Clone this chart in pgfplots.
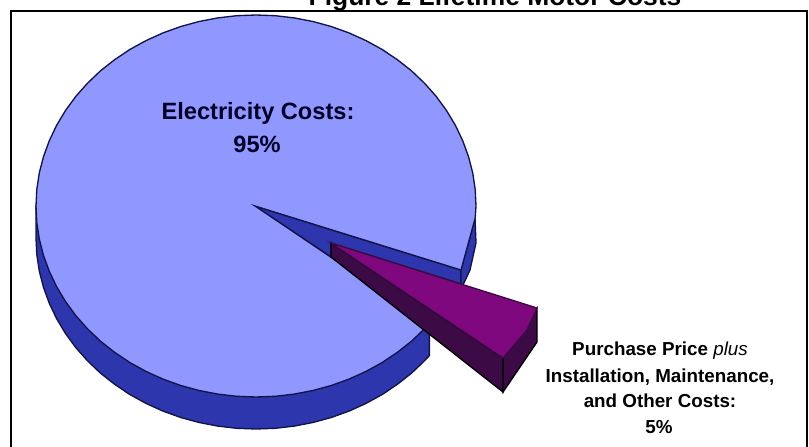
\documentclass[border=0pt]{standalone}
\usepackage{fontspec}
\setmainfont{Liberation Sans}
\usepackage{pgfplots}
\pgfplotsset{compat=1.18}
\definecolor{faceblue}{RGB}{144,152,255}
\definecolor{sideblue}{RGB}{45,54,172}
\definecolor{edgeblue}{RGB}{18,20,70}
\definecolor{facepurple}{RGB}{128,8,127}
\definecolor{sidepurple}{RGB}{60,10,68}
\begin{document}
\begin{tikzpicture}
\path[clip,use as bounding box] (0,0) rectangle (606.75pt,334.5pt);
\begin{axis}[
    at={(0,0)}, anchor=south west,
    scale only axis,
    width=606.75pt,
    height=334.5pt,
    xmin=0, xmax=809,
    ymin=0, ymax=446,
    y dir=reverse,
    hide axis,
    clip=false,
]
% frame, pixel coordinates of the picture
\addplot[black, line width=1.5pt] coordinates {(11,450) (11,11) (807,11) (807,450)};
% rim of the big slice
\addplot[fill=sideblue, draw=edgeblue, line width=1pt] coordinates {
(36,206) (36,238) (36.8,254.6) (39.3,271.2) (43.5,287.4) (49.3,303.3) (56.6,318.7)
(65.5,333.5) (75.8,347.6) (87.5,360.8) (100.4,373.1) (114.6,384.3) (129.8,394.5)
(146,403.4) (163,411.1) (180.8,417.5) (199.1,422.5) (217.8,426.1) (236.8,428.3)
(256,429) (275.2,428.3) (294.2,426.1) (312.9,422.5) (331.2,417.5) (349,411.1)
(366,403.4) (382.2,394.5) (397.4,384.3) (411.6,373.1) (424.5,360.8) (429.4,355.6)
(429.4,323.6)
} -- cycle;
% inner wall seen through the gap
\addplot[fill=sideblue, draw=edgeblue, line width=1pt] coordinates {
(255,206) (461,270) (461,284) (331,243) (331,257)
} -- cycle;
\addplot[fill=sideblue, draw=edgeblue, line width=1pt] coordinates {
(475,218) (476,243) (470,270) (463,285) (461,284) (461,270)
} -- cycle;
% top of the big slice
\addplot[fill=faceblue, draw=edgeblue, line width=1pt] coordinates {
(461,270) (475.2,218) (476,206) (475.2,189.4) (472.7,172.8) (468.5,156.6) (462.7,140.7)
(455.4,125.3) (446.5,110.5) (436.2,96.4) (424.5,83.2) (411.6,70.9) (397.4,59.7)
(382.2,49.5) (366,40.6) (349,32.9) (331.2,26.5) (312.9,21.5) (294.2,17.9)
(275.2,15.7) (256,15) (236.8,15.7) (217.8,17.9) (199.1,21.5) (180.8,26.5)
(163,32.9) (146,40.6) (129.8,49.5) (114.6,59.7) (100.4,70.9) (87.5,83.2)
(75.8,96.4) (65.5,110.5) (56.6,125.3) (49.3,140.7) (43.5,156.6) (39.3,172.8)
(36.8,189.4) (36,206) (36.8,222.6) (39.3,239.2) (43.5,255.4) (49.3,271.3)
(56.6,286.7) (65.5,301.5) (75.8,315.6) (87.5,328.8) (100.4,341.1) (114.6,352.3)
(129.8,362.5) (146,371.4) (163,379.1) (180.8,385.5) (199.1,390.5) (217.8,394.1)
(236.8,396.3) (256,397) (275.2,396.3) (294.2,394.1) (312.9,390.5) (331.2,385.5)
(349,379.1) (366,371.4) (382.2,362.5) (397.4,352.3) (411.6,341.1) (424.5,328.8)
(429.4,323.6) (255,206)
} -- cycle;
% exploded slice
\addplot[fill=sidepurple, draw=black, line width=1pt] coordinates {
(331,243) (503,358) (503,392) (331,257)
} -- cycle;
\addplot[fill=sidepurple, draw=black, line width=1pt] coordinates {
(537,308) (537,342) (503,392) (503,358)
} -- cycle;
\addplot[fill=facepurple, draw=sidepurple, line width=1pt] coordinates {
(331,243) (537,308) (527,330) (503,358)
} -- cycle;
% texts
\node[font=\bfseries\fontsize{19.8}{22}\selectfont, anchor=base] at (axis cs:495,5) {Figure 2 Lifetime Motor Costs};
\node[font=\bfseries\fontsize{17.7}{20}\selectfont, text=black!85!blue, anchor=base] at (axis cs:258,119) {Electricity Costs:};
\node[font=\bfseries\fontsize{17.7}{20}\selectfont, text=black!85!blue, anchor=base] at (axis cs:257,152) {95\%};
\node[font=\bfseries\fontsize{14.1}{16}\selectfont, anchor=base] at (axis cs:660,355) {Purchase Price \textit{\mdseries plus}};
\node[font=\bfseries\fontsize{14.1}{16}\selectfont, anchor=base] at (axis cs:660,382) {Installation, Maintenance,};
\node[font=\bfseries\fontsize{14.1}{16}\selectfont, anchor=base] at (axis cs:660,407) {and Other Costs:};
\node[font=\bfseries\fontsize{14.1}{16}\selectfont, anchor=base] at (axis cs:659,433) {5\%};
\end{axis}
\end{tikzpicture}
\end{document}
